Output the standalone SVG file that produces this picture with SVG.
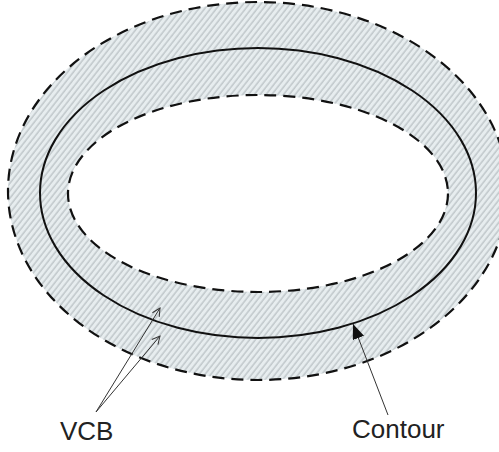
<svg xmlns="http://www.w3.org/2000/svg" width="499" height="452" viewBox="0 0 499 452">
<style>
.dash{fill:none;stroke:#111;stroke-width:2.2;stroke-dasharray:12 7}
.solid{fill:none;stroke:#111;stroke-width:2}
.lead{fill:none;stroke:#333;stroke-width:1}
.lbl{font-family:"Liberation Sans",Arial,sans-serif;font-size:26px;fill:#222}
</style>
<defs>
<pattern id="hatch" patternUnits="userSpaceOnUse" width="4.6" height="10" patternTransform="rotate(38)">
<rect width="4.6" height="10" fill="#e7edef"/>
<line x1="1" y1="0" x2="1" y2="10" stroke="#a3abae" stroke-width="0.9"/>
</pattern>
<marker id="open" markerWidth="10" markerHeight="10" refX="9" refY="5" orient="auto" markerUnits="userSpaceOnUse">
<path d="M1,1 L9,5 L1,9" fill="none" stroke="#333" stroke-width="1"/>
</marker>
<marker id="filled" markerWidth="16" markerHeight="12" refX="15" refY="6" orient="auto" markerUnits="userSpaceOnUse">
<path d="M0,0 L15,6 L0,12 Z" fill="#111"/>
</marker>
</defs>
<g id="ring">
<path d="M8,191 A250,189 0 1,0 508,191 A250,189 0 1,0 8,191 Z M68,193.5 A190,98.5 0 1,0 448,193.5 A190,98.5 0 1,0 68,193.5 Z" fill="url(#hatch)" fill-rule="evenodd"/>
<ellipse id="outer" class="dash" cx="258" cy="191" rx="250" ry="189"/>
<ellipse id="inner" class="dash" cx="258" cy="193.5" rx="190" ry="98.5"/>
</g>
<g id="contour">
<ellipse class="solid" cx="258" cy="193" rx="218" ry="145"/>
</g>
<g id="connectors">
<line class="lead" x1="96" y1="412" x2="160" y2="308" marker-end="url(#open)"/>
<line class="lead" x1="96" y1="412" x2="160" y2="336" marker-end="url(#open)"/>
<line class="lead" x1="388" y1="415" x2="353" y2="324" marker-end="url(#filled)"/>
</g>
<g id="labels">
<text class="lbl" x="60" y="440">VCB</text>
<text class="lbl" x="352" y="438">Contour</text>
</g>
</svg>
